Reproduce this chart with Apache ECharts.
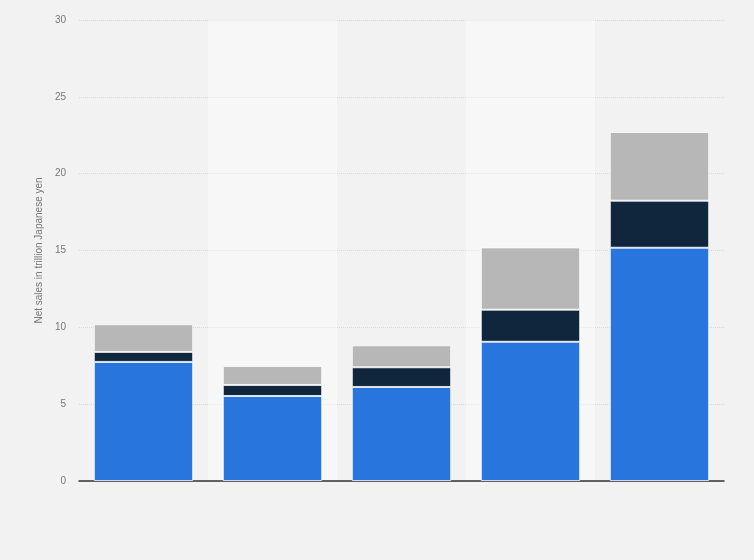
<!DOCTYPE html>
<html>
<head>
<meta charset="utf-8">
<script src="https://cdn.jsdelivr.net/npm/echarts@6/dist/echarts.min.js"></script>
<style>
html,body{margin:0;padding:0;background:#f2f2f2;}
#c{width:754px;height:560px;}
</style>
</head>
<body>
<div id="c"></div>
<script>
const categories = ['1', '2', '3', '4', '5'];
const seriesBlue = [7.75, 5.53, 6.12, 9.06, 15.18];
const seriesNavy = [0.65, 0.72, 1.28, 2.09, 3.06];
const seriesGray = [1.8, 1.23, 1.43, 4.05, 4.47];
const yTicks = [0, 5, 10, 15, 20, 25, 30];

const chart = echarts.init(document.getElementById('c'), null, {renderer: 'canvas'});
const mk = (name, data, color) => ({
  name, type: 'bar', stack: 'total', data,
  barWidth: '77%',
  itemStyle: {color, borderColor: 'rgba(255,255,255,0.75)', borderWidth: 1},
  emphasis: {disabled: true}
});
chart.setOption({
  backgroundColor: '#f2f2f2',
  animation: false,
  grid: {left: 79, right: 30, top: 20, bottom: 79},
  xAxis: {
    type: 'category', data: categories,
    axisLine: {lineStyle: {color: '#333', width: 1.5}},
    axisTick: {show: false},
    axisLabel: {show: false},
    splitArea: {show: true, areaStyle: {color: ['rgba(0,0,0,0)', 'rgba(255,255,255,0.4)']}}
  },
  yAxis: {
    type: 'value', min: yTicks[0], max: yTicks[yTicks.length - 1], interval: 5,
    name: 'Net sales in trillion Japanese yen',
    nameLocation: 'middle', nameGap: 31,
    nameTextStyle: {color: '#777', fontSize: 10, fontFamily: 'Liberation Sans, Arial, sans-serif'},
    axisLine: {show: false}, axisTick: {show: false},
    axisLabel: {color: '#777', fontSize: 10, margin: 13, fontFamily: 'Liberation Sans, Arial, sans-serif'},
    splitLine: {lineStyle: {color: '#dadada', type: [1, 1], width: 1}}
  },
  series: [
    mk('A', seriesBlue, '#2876dd'),
    mk('B', seriesNavy, '#10263d'),
    mk('C', seriesGray, '#b7b7b7')
  ]
});
</script>
</body>
</html>
